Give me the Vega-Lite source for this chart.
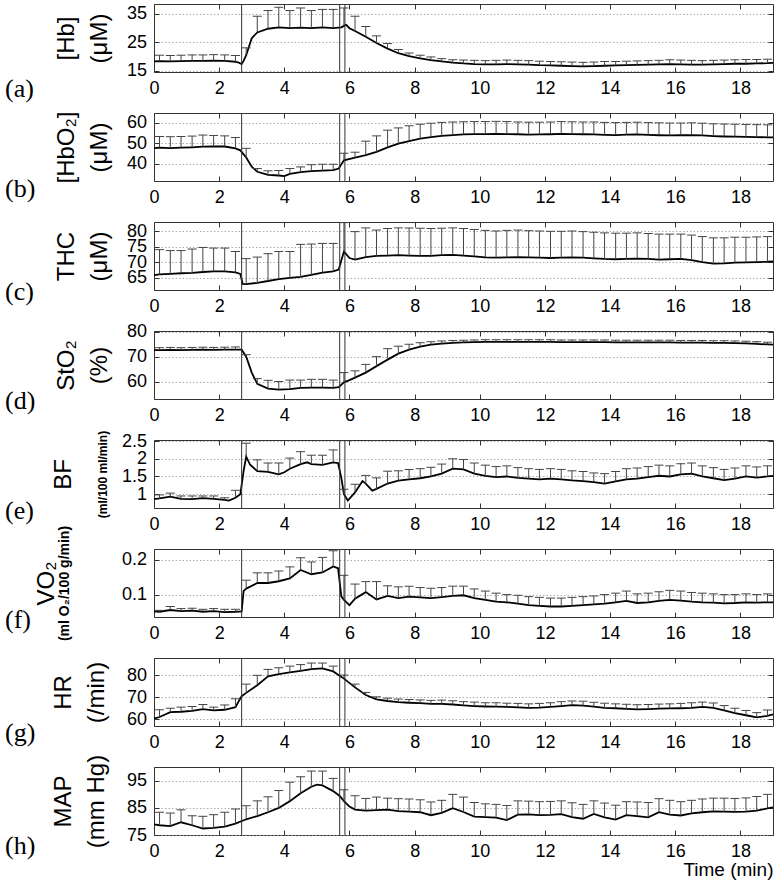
{
"$schema":"https://vega.github.io/schema/vega-lite/v6.json",
"background":"white",
"padding":{"left":4,"top":3,"right":2,"bottom":2},
"bounds":"flush",
"spacing":41,
"vconcat":[
{"width":619,"height":68,
"title":{"text":"(a)","orient":"bottom","anchor":"start","frame":"group","align":"left","baseline":"middle","offset":0,"dx":-149,"dy":-8.5,"font":"Liberation Serif","fontSize":26,"fontWeight":"normal","color":"#000"},
"layer":[
{"data":{"name":"a"},"mark":{"type":"line","color":"#000","strokeWidth":1.8},"encoding":{"x":{"field":"t","type":"quantitative","scale":{"domain":[0,19],"nice":false,"zero":false},"axis":{"orient":"bottom","values":[0,2,4,6,8,10,12,14,16,18],"title":null}},"y":{"field":"v","type":"quantitative","scale":{"domain":[14.6,38.5],"nice":false,"zero":false},"axis":{"orient":"left","values":[15,25,35],"grid":true,"title":["[Hb]","(μM)"],"titlePadding":15}}}},
{"data":{"name":"a"},"transform":[{"filter":"isValid(datum.u)"}],"mark":{"type":"rule","color":"#444","strokeWidth":1},"encoding":{"x":{"field":"t","type":"quantitative","axis":{"orient":"top","values":[0,2,4,6,8,10,12,14,16,18],"labels":false,"title":null}},"y":{"field":"v","type":"quantitative","axis":{"orient":"right","values":[15,25,35],"labels":false,"grid":false,"title":null}},"y2":{"field":"u"}}},
{"data":{"name":"a"},"transform":[{"filter":"isValid(datum.u)"}],"mark":{"type":"tick","orient":"horizontal","size":9,"thickness":1,"color":"#444","opacity":1},"encoding":{"x":{"field":"t","type":"quantitative","axis":null},"y":{"field":"u","type":"quantitative","axis":null}}},
{"data":{"name":"vl"},"mark":{"type":"rule","color":"#333","strokeWidth":1},"encoding":{"x":{"field":"t","type":"quantitative","axis":null}}}
],
"resolve":{"axis":{"x":"independent","y":"independent"}}},
{"width":619,"height":68,
"title":{"text":"(b)","orient":"bottom","anchor":"start","frame":"group","align":"left","baseline":"middle","offset":0,"dx":-149,"dy":-17.5,"font":"Liberation Serif","fontSize":26,"fontWeight":"normal","color":"#000"},
"layer":[
{"data":{"name":"b"},"mark":{"type":"line","color":"#000","strokeWidth":1.8},"encoding":{"x":{"field":"t","type":"quantitative","scale":{"domain":[0,19],"nice":false,"zero":false},"axis":{"orient":"bottom","values":[0,2,4,6,8,10,12,14,16,18],"title":null}},"y":{"field":"v","type":"quantitative","scale":{"domain":[31.5,64.8],"nice":false,"zero":false},"axis":{"orient":"left","values":[40,50,60],"grid":true,"title":["[HbO₂]","(μM)"],"titlePadding":15}}}},
{"data":{"name":"b"},"transform":[{"filter":"isValid(datum.u)"}],"mark":{"type":"rule","color":"#444","strokeWidth":1},"encoding":{"x":{"field":"t","type":"quantitative","axis":{"orient":"top","values":[0,2,4,6,8,10,12,14,16,18],"labels":false,"title":null}},"y":{"field":"v","type":"quantitative","axis":{"orient":"right","values":[40,50,60],"labels":false,"grid":false,"title":null}},"y2":{"field":"u"}}},
{"data":{"name":"b"},"transform":[{"filter":"isValid(datum.u)"}],"mark":{"type":"tick","orient":"horizontal","size":9,"thickness":1,"color":"#444","opacity":1},"encoding":{"x":{"field":"t","type":"quantitative","axis":null},"y":{"field":"u","type":"quantitative","axis":null}}},
{"data":{"name":"vl"},"mark":{"type":"rule","color":"#333","strokeWidth":1},"encoding":{"x":{"field":"t","type":"quantitative","axis":null}}}
],
"resolve":{"axis":{"x":"independent","y":"independent"}}},
{"width":619,"height":68,
"title":{"text":"(c)","orient":"bottom","anchor":"start","frame":"group","align":"left","baseline":"middle","offset":0,"dx":-149,"dy":-23.5,"font":"Liberation Serif","fontSize":26,"fontWeight":"normal","color":"#000"},
"layer":[
{"data":{"name":"c"},"mark":{"type":"line","color":"#000","strokeWidth":1.8},"encoding":{"x":{"field":"t","type":"quantitative","scale":{"domain":[0,19],"nice":false,"zero":false},"axis":{"orient":"bottom","values":[0,2,4,6,8,10,12,14,16,18],"title":null}},"y":{"field":"v","type":"quantitative","scale":{"domain":[61,82.9],"nice":false,"zero":false},"axis":{"orient":"left","values":[65,70,75,80],"grid":true,"title":["THC","(μM)"],"titlePadding":15}}}},
{"data":{"name":"c"},"transform":[{"filter":"isValid(datum.u)"}],"mark":{"type":"rule","color":"#444","strokeWidth":1},"encoding":{"x":{"field":"t","type":"quantitative","axis":{"orient":"top","values":[0,2,4,6,8,10,12,14,16,18],"labels":false,"title":null}},"y":{"field":"v","type":"quantitative","axis":{"orient":"right","values":[65,70,75,80],"labels":false,"grid":false,"title":null}},"y2":{"field":"u"}}},
{"data":{"name":"c"},"transform":[{"filter":"isValid(datum.u)"}],"mark":{"type":"tick","orient":"horizontal","size":9,"thickness":1,"color":"#444","opacity":1},"encoding":{"x":{"field":"t","type":"quantitative","axis":null},"y":{"field":"u","type":"quantitative","axis":null}}},
{"data":{"name":"vl"},"mark":{"type":"rule","color":"#333","strokeWidth":1},"encoding":{"x":{"field":"t","type":"quantitative","axis":null}}}
],
"resolve":{"axis":{"x":"independent","y":"independent"}}},
{"width":619,"height":68,
"title":{"text":"(d)","orient":"bottom","anchor":"start","frame":"group","align":"left","baseline":"middle","offset":0,"dx":-149,"dy":-24,"font":"Liberation Serif","fontSize":26,"fontWeight":"normal","color":"#000"},
"layer":[
{"data":{"name":"d"},"mark":{"type":"line","color":"#000","strokeWidth":1.8},"encoding":{"x":{"field":"t","type":"quantitative","scale":{"domain":[0,19],"nice":false,"zero":false},"axis":{"orient":"bottom","values":[0,2,4,6,8,10,12,14,16,18],"title":null}},"y":{"field":"v","type":"quantitative","scale":{"domain":[53,80.3],"nice":false,"zero":false},"axis":{"orient":"left","values":[60,70,80],"grid":true,"title":["StO₂","(%)"],"titlePadding":15}}}},
{"data":{"name":"d"},"transform":[{"filter":"isValid(datum.u)"}],"mark":{"type":"rule","color":"#444","strokeWidth":1},"encoding":{"x":{"field":"t","type":"quantitative","axis":{"orient":"top","values":[0,2,4,6,8,10,12,14,16,18],"labels":false,"title":null}},"y":{"field":"v","type":"quantitative","axis":{"orient":"right","values":[60,70,80],"labels":false,"grid":false,"title":null}},"y2":{"field":"u"}}},
{"data":{"name":"d"},"transform":[{"filter":"isValid(datum.u)"}],"mark":{"type":"tick","orient":"horizontal","size":9,"thickness":1,"color":"#444","opacity":1},"encoding":{"x":{"field":"t","type":"quantitative","axis":null},"y":{"field":"u","type":"quantitative","axis":null}}},
{"data":{"name":"vl"},"mark":{"type":"rule","color":"#333","strokeWidth":1},"encoding":{"x":{"field":"t","type":"quantitative","axis":null}}}
],
"resolve":{"axis":{"x":"independent","y":"independent"}}},
{"width":619,"height":68,
"title":{"text":"(e)","orient":"bottom","anchor":"start","frame":"group","align":"left","baseline":"middle","offset":0,"dx":-149,"dy":-22.5,"font":"Liberation Serif","fontSize":26,"fontWeight":"normal","color":"#000"},
"layer":[
{"data":{"name":"e"},"mark":{"type":"line","color":"#000","strokeWidth":1.8},"encoding":{"x":{"field":"t","type":"quantitative","scale":{"domain":[0,19],"nice":false,"zero":false},"axis":{"orient":"bottom","values":[0,2,4,6,8,10,12,14,16,18],"title":null}},"y":{"field":"v","type":"quantitative","scale":{"domain":[0.61,2.53],"nice":false,"zero":false},"axis":{"orient":"left","values":[1,1.5,2,2.5],"labelExpr":"datum.value + ''","grid":true,"title":"(ml/100 ml/min)","titleFontSize":12,"titleFontWeight":"bold","titlePadding":12}}}},
{"data":{"name":"e"},"transform":[{"filter":"isValid(datum.u)"}],"mark":{"type":"rule","color":"#444","strokeWidth":1},"encoding":{"x":{"field":"t","type":"quantitative","axis":{"orient":"top","values":[0,2,4,6,8,10,12,14,16,18],"labels":false,"title":null}},"y":{"field":"v","type":"quantitative","axis":{"orient":"right","values":[1,1.5,2,2.5],"labels":false,"grid":false,"title":null}},"y2":{"field":"u"}}},
{"data":{"name":"e"},"transform":[{"filter":"isValid(datum.u)"}],"mark":{"type":"tick","orient":"horizontal","size":9,"thickness":1,"color":"#444","opacity":1},"encoding":{"x":{"field":"t","type":"quantitative","axis":null},"y":{"field":"u","type":"quantitative","axis":{"orient":"left","labels":false,"ticks":false,"grid":false,"title":"BF","titlePadding":79}}}},
{"data":{"name":"vl"},"mark":{"type":"rule","color":"#333","strokeWidth":1},"encoding":{"x":{"field":"t","type":"quantitative","axis":null}}}
],
"resolve":{"axis":{"x":"independent","y":"independent"}}},
{"width":619,"height":68,
"title":{"text":"(f)","orient":"bottom","anchor":"start","frame":"group","align":"left","baseline":"middle","offset":0,"dx":-149,"dy":-22.5,"font":"Liberation Serif","fontSize":26,"fontWeight":"normal","color":"#000"},
"layer":[
{"data":{"name":"f"},"mark":{"type":"line","color":"#000","strokeWidth":1.8},"encoding":{"x":{"field":"t","type":"quantitative","scale":{"domain":[0,19],"nice":false,"zero":false},"axis":{"orient":"bottom","values":[0,2,4,6,8,10,12,14,16,18],"title":null}},"y":{"field":"v","type":"quantitative","scale":{"domain":[0.036,0.23],"nice":false,"zero":false},"axis":{"orient":"left","values":[0.1,0.2],"grid":true,"title":"(ml O₂/100 g/min)","titleFontSize":14,"titleFontWeight":"bold","titlePadding":50}}}},
{"data":{"name":"f"},"transform":[{"filter":"isValid(datum.u)"}],"mark":{"type":"rule","color":"#444","strokeWidth":1},"encoding":{"x":{"field":"t","type":"quantitative","axis":{"orient":"top","values":[0,2,4,6,8,10,12,14,16,18],"labels":false,"title":null}},"y":{"field":"v","type":"quantitative","axis":{"orient":"right","values":[0.1,0.2],"labels":false,"grid":false,"title":null}},"y2":{"field":"u"}}},
{"data":{"name":"f"},"transform":[{"filter":"isValid(datum.u)"}],"mark":{"type":"tick","orient":"horizontal","size":9,"thickness":1,"color":"#444","opacity":1},"encoding":{"x":{"field":"t","type":"quantitative","axis":null},"y":{"field":"u","type":"quantitative","axis":{"orient":"left","labels":false,"ticks":false,"grid":false,"title":"VO₂","titlePadding":96}}}},
{"data":{"name":"vl"},"mark":{"type":"rule","color":"#333","strokeWidth":1},"encoding":{"x":{"field":"t","type":"quantitative","axis":null}}}
],
"resolve":{"axis":{"x":"independent","y":"independent"}}},
{"width":619,"height":68,
"title":{"text":"(g)","orient":"bottom","anchor":"start","frame":"group","align":"left","baseline":"middle","offset":0,"dx":-149,"dy":-18.5,"font":"Liberation Serif","fontSize":26,"fontWeight":"normal","color":"#000"},
"layer":[
{"data":{"name":"g"},"mark":{"type":"line","color":"#000","strokeWidth":1.8},"encoding":{"x":{"field":"t","type":"quantitative","scale":{"domain":[0,19],"nice":false,"zero":false},"axis":{"orient":"bottom","values":[0,2,4,6,8,10,12,14,16,18],"title":null}},"y":{"field":"v","type":"quantitative","scale":{"domain":[56.9,87.9],"nice":false,"zero":false},"axis":{"orient":"left","values":[60,70,80],"grid":true,"title":["HR","(/min)"],"titlePadding":18}}}},
{"data":{"name":"g"},"transform":[{"filter":"isValid(datum.u)"}],"mark":{"type":"rule","color":"#444","strokeWidth":1},"encoding":{"x":{"field":"t","type":"quantitative","axis":{"orient":"top","values":[0,2,4,6,8,10,12,14,16,18],"labels":false,"title":null}},"y":{"field":"v","type":"quantitative","axis":{"orient":"right","values":[60,70,80],"labels":false,"grid":false,"title":null}},"y2":{"field":"u"}}},
{"data":{"name":"g"},"transform":[{"filter":"isValid(datum.u)"}],"mark":{"type":"tick","orient":"horizontal","size":9,"thickness":1,"color":"#444","opacity":1},"encoding":{"x":{"field":"t","type":"quantitative","axis":null},"y":{"field":"u","type":"quantitative","axis":null}}},
{"data":{"name":"vl"},"mark":{"type":"rule","color":"#333","strokeWidth":1},"encoding":{"x":{"field":"t","type":"quantitative","axis":null}}}
],
"resolve":{"axis":{"x":"independent","y":"independent"}}},
{"width":619,"height":68,
"title":{"text":"(h)","orient":"bottom","anchor":"start","frame":"group","align":"left","baseline":"middle","offset":0,"dx":-149,"dy":-34,"font":"Liberation Serif","fontSize":26,"fontWeight":"normal","color":"#000"},
"layer":[
{"data":{"name":"h"},"mark":{"type":"line","color":"#000","strokeWidth":1.8},"encoding":{"x":{"field":"t","type":"quantitative","scale":{"domain":[0,19],"nice":false,"zero":false},"axis":{"orient":"bottom","values":[0,2,4,6,8,10,12,14,16,18],"title":"Time (min)","titleAnchor":"end","titleFontSize":19,"titlePadding":0}},"y":{"field":"v","type":"quantitative","scale":{"domain":[75,100.1],"nice":false,"zero":false},"axis":{"orient":"left","values":[75,85,95],"grid":true,"title":["MAP","(mm Hg)"],"titlePadding":18}}}},
{"data":{"name":"h"},"transform":[{"filter":"isValid(datum.u)"}],"mark":{"type":"rule","color":"#444","strokeWidth":1},"encoding":{"x":{"field":"t","type":"quantitative","axis":{"orient":"top","values":[0,2,4,6,8,10,12,14,16,18],"labels":false,"title":null}},"y":{"field":"v","type":"quantitative","axis":{"orient":"right","values":[75,85,95],"labels":false,"grid":false,"title":null}},"y2":{"field":"u"}}},
{"data":{"name":"h"},"transform":[{"filter":"isValid(datum.u)"}],"mark":{"type":"tick","orient":"horizontal","size":9,"thickness":1,"color":"#444","opacity":1},"encoding":{"x":{"field":"t","type":"quantitative","axis":null},"y":{"field":"u","type":"quantitative","axis":null}}},
{"data":{"name":"vl"},"mark":{"type":"rule","color":"#333","strokeWidth":1},"encoding":{"x":{"field":"t","type":"quantitative","axis":null}}}
],
"resolve":{"axis":{"x":"independent","y":"independent"}}}
],
"datasets":{
"vl":[{"t":2.69},{"t":5.7},{"t":5.86}],
"a":[{"t":0,"v":18.3},{"t":0.17,"v":18.4,"u":20.5},{"t":0.5,"v":18.3,"u":20.4},{"t":0.83,"v":18.4,"u":20.5},{"t":1.17,"v":18.5,"u":20.6},{"t":1.5,"v":18.5,"u":20.6},{"t":1.83,"v":18.6,"u":20.7},{"t":2.17,"v":18.5,"u":20.6},{"t":2.5,"v":18.2,"u":20.4},{"t":2.62,"v":17.8},{"t":2.69,"v":17.4},{"t":2.75,"v":18.5},{"t":2.83,"v":20.5,"u":23.1},{"t":3,"v":26.5},{"t":3.17,"v":28.5,"u":34.2},{"t":3.5,"v":29.8,"u":36.2},{"t":3.83,"v":30.3,"u":37.4},{"t":4.17,"v":30,"u":36.2},{"t":4.5,"v":30.2,"u":37.1},{"t":4.83,"v":30,"u":36.2},{"t":5.17,"v":30.3,"u":36.6},{"t":5.5,"v":30,"u":36.6},{"t":5.75,"v":30.3},{"t":5.83,"v":30.8,"u":37.1},{"t":5.9,"v":31.2},{"t":6,"v":30},{"t":6.17,"v":29,"u":34.2},{"t":6.5,"v":27,"u":30.6},{"t":6.83,"v":24.8,"u":27.3},{"t":7.17,"v":22.8,"u":24.6},{"t":7.5,"v":21.2,"u":22.5},{"t":7.83,"v":20.2,"u":21.3},{"t":8.17,"v":19.4,"u":20.5},{"t":8.5,"v":18.8,"u":19.9},{"t":8.83,"v":18.3,"u":19.3},{"t":9.17,"v":17.9,"u":18.9},{"t":9.5,"v":17.6,"u":18.8},{"t":9.83,"v":17.4,"u":18.7},{"t":10.17,"v":17.3,"u":18.6},{"t":10.5,"v":17.3,"u":18.7},{"t":10.83,"v":17.4,"u":18.8},{"t":11.17,"v":17.3,"u":18.7},{"t":11.5,"v":17.2,"u":18.6},{"t":11.83,"v":17,"u":18.4},{"t":12.17,"v":16.9,"u":18.3},{"t":12.5,"v":16.8,"u":18.2},{"t":12.83,"v":16.7,"u":18.1},{"t":13.17,"v":16.6,"u":18},{"t":13.5,"v":16.7,"u":18.1},{"t":13.83,"v":16.8,"u":18.3},{"t":14.17,"v":16.9,"u":18.3},{"t":14.5,"v":17,"u":18.4},{"t":14.83,"v":17.1,"u":18.5},{"t":15.17,"v":17.2,"u":18.6},{"t":15.5,"v":17.3,"u":18.7},{"t":15.83,"v":17.4,"u":18.9},{"t":16.17,"v":17.3,"u":18.8},{"t":16.5,"v":17.2,"u":18.7},{"t":16.83,"v":17.2,"u":18.6},{"t":17.17,"v":17.3,"u":18.7},{"t":17.5,"v":17.4,"u":18.8},{"t":17.83,"v":17.5,"u":18.9},{"t":18.17,"v":17.5,"u":19},{"t":18.5,"v":17.6,"u":19},{"t":18.83,"v":17.7,"u":19.1},{"t":19,"v":17.8}],
"b":[{"t":0,"v":47.6},{"t":0.17,"v":47.8,"u":53.3},{"t":0.5,"v":47.6,"u":53.2},{"t":0.83,"v":47.8,"u":53.3},{"t":1.17,"v":48,"u":53.5},{"t":1.5,"v":48.3,"u":54},{"t":1.83,"v":48.5,"u":53.8},{"t":2.17,"v":48.4,"u":53.6},{"t":2.5,"v":47.5,"u":52.8},{"t":2.65,"v":46.5},{"t":2.83,"v":43,"u":47.5},{"t":3,"v":38.5},{"t":3.17,"v":36,"u":37.6},{"t":3.5,"v":34.5,"u":36.5},{"t":3.83,"v":34.2,"u":36.6},{"t":4,"v":33.9},{"t":4.17,"v":35,"u":37.6},{"t":4.5,"v":35.8,"u":38.4},{"t":4.83,"v":36.3,"u":39.5},{"t":5.17,"v":36.6,"u":39.7},{"t":5.5,"v":36.8,"u":39.7},{"t":5.67,"v":37.6},{"t":5.83,"v":41.6,"u":45.1},{"t":6.17,"v":42.9,"u":45.6},{"t":6.5,"v":44.2,"u":51},{"t":6.83,"v":45.8,"u":53.6},{"t":7.17,"v":48,"u":56.4},{"t":7.5,"v":49.8,"u":57.5},{"t":7.83,"v":51,"u":58.5},{"t":8.17,"v":52.2,"u":59.3},{"t":8.5,"v":53,"u":59.8},{"t":8.83,"v":53.6,"u":60.2},{"t":9.17,"v":54,"u":60.4},{"t":9.5,"v":54.3,"u":60.5},{"t":9.83,"v":54.5,"u":60.6},{"t":10.17,"v":54.5,"u":60.6},{"t":10.5,"v":54.6,"u":60.7},{"t":10.83,"v":54.5,"u":60.6},{"t":11.17,"v":54.4,"u":60.4},{"t":11.5,"v":54.2,"u":60.3},{"t":11.83,"v":54.3,"u":60.3},{"t":12.17,"v":54.4,"u":60.4},{"t":12.5,"v":54.6,"u":60.6},{"t":12.83,"v":54.5,"u":60.5},{"t":13.17,"v":54.4,"u":60.4},{"t":13.5,"v":54.3,"u":60.4},{"t":13.83,"v":54.1,"u":60.2},{"t":14.17,"v":54,"u":60.1},{"t":14.5,"v":54.2,"u":60.2},{"t":14.83,"v":54.3,"u":60.3},{"t":15.17,"v":54.1,"u":60.1},{"t":15.5,"v":53.9,"u":60},{"t":15.83,"v":53.8,"u":59.9},{"t":16.17,"v":53.9,"u":59.9},{"t":16.5,"v":54,"u":60},{"t":16.83,"v":53.8,"u":59.8},{"t":17.17,"v":53.5,"u":59.5},{"t":17.5,"v":53.3,"u":59.4},{"t":17.83,"v":53.2,"u":59.3},{"t":18.17,"v":53.1,"u":59.2},{"t":18.5,"v":53,"u":59.1},{"t":18.83,"v":52.9,"u":59},{"t":19,"v":52.9}],
"c":[{"t":0,"v":65.8},{"t":0.17,"v":66,"u":74},{"t":0.5,"v":66.2,"u":73.7},{"t":0.83,"v":66.4,"u":73.7},{"t":1.17,"v":66.5,"u":74.2},{"t":1.5,"v":66.8,"u":74.7},{"t":1.83,"v":67,"u":74.5},{"t":2.17,"v":67,"u":74.5},{"t":2.5,"v":66.7,"u":73.4},{"t":2.65,"v":66.2},{"t":2.72,"v":63},{"t":2.83,"v":62.9,"u":71.1},{"t":3.17,"v":63.3,"u":71.6},{"t":3.5,"v":63.9,"u":72.7},{"t":3.83,"v":64.5,"u":73.4},{"t":4.17,"v":64.9,"u":73.4},{"t":4.5,"v":65.2,"u":75.7},{"t":4.83,"v":65.9,"u":75.8},{"t":5.17,"v":66.6,"u":76},{"t":5.5,"v":67,"u":76},{"t":5.67,"v":67.6},{"t":5.83,"v":73.4,"u":82.7},{"t":6,"v":71.3},{"t":6.17,"v":70.8,"u":79.8},{"t":6.5,"v":71.6,"u":81},{"t":6.83,"v":72,"u":80.3},{"t":7.17,"v":72.1,"u":80.8},{"t":7.5,"v":72.2,"u":81},{"t":7.83,"v":72.1,"u":81},{"t":8.17,"v":72,"u":80.9},{"t":8.5,"v":72,"u":80.8},{"t":8.83,"v":72.2,"u":80.9},{"t":9.17,"v":72.3,"u":81},{"t":9.5,"v":72.1,"u":80.8},{"t":9.83,"v":71.8,"u":80.5},{"t":10.17,"v":71.5,"u":80.2},{"t":10.5,"v":71.4,"u":80},{"t":10.83,"v":71.5,"u":80.2},{"t":11.17,"v":71.6,"u":80.3},{"t":11.5,"v":71.5,"u":80.1},{"t":11.83,"v":71.4,"u":80},{"t":12.17,"v":71.3,"u":79.9},{"t":12.5,"v":71.4,"u":79.9},{"t":12.83,"v":71.5,"u":80},{"t":13.17,"v":71.4,"u":79.8},{"t":13.5,"v":71.2,"u":79.6},{"t":13.83,"v":71,"u":79.4},{"t":14.17,"v":70.9,"u":79.3},{"t":14.5,"v":71,"u":79.3},{"t":14.83,"v":71.1,"u":79.4},{"t":15.17,"v":71,"u":79.2},{"t":15.5,"v":70.8,"u":79},{"t":15.83,"v":70.9,"u":79},{"t":16.17,"v":71,"u":79},{"t":16.5,"v":70.6,"u":78.7},{"t":16.83,"v":70,"u":78.2},{"t":17.17,"v":69.5,"u":77.8},{"t":17.5,"v":69.6,"u":77.8},{"t":17.83,"v":69.8,"u":78},{"t":18.17,"v":69.9,"u":78},{"t":18.5,"v":70,"u":78.1},{"t":18.83,"v":70.1,"u":78.2},{"t":19,"v":70.2}],
"d":[{"t":0,"v":72.6},{"t":0.17,"v":72.6,"u":73.6},{"t":0.5,"v":72.7,"u":73.7},{"t":0.83,"v":72.6,"u":73.6},{"t":1.17,"v":72.7,"u":73.7},{"t":1.5,"v":72.8,"u":73.8},{"t":1.83,"v":72.7,"u":73.7},{"t":2.17,"v":72.8,"u":73.8},{"t":2.5,"v":72.8,"u":73.9},{"t":2.69,"v":72.8},{"t":2.83,"v":70,"u":70.8},{"t":3,"v":63.6},{"t":3.17,"v":59.1,"u":61.2},{"t":3.5,"v":57.2,"u":60.5},{"t":3.83,"v":56.8,"u":60},{"t":4.17,"v":57,"u":60.6},{"t":4.5,"v":57.5,"u":60.6},{"t":4.83,"v":57.6,"u":60.9},{"t":5.17,"v":57.6,"u":60.9},{"t":5.5,"v":57.5,"u":60.6},{"t":5.67,"v":57.8},{"t":5.83,"v":59.7,"u":63.6},{"t":6,"v":60.6},{"t":6.17,"v":61.6,"u":64.3},{"t":6.5,"v":63.6,"u":66.9},{"t":6.83,"v":66.2,"u":70},{"t":7.17,"v":68.8,"u":73.2},{"t":7.5,"v":71.2,"u":74.2},{"t":7.83,"v":72.8,"u":75},{"t":8.17,"v":74,"u":75.6},{"t":8.5,"v":74.8,"u":76},{"t":8.83,"v":75.2,"u":76.3},{"t":9.17,"v":75.5,"u":76.5},{"t":9.5,"v":75.7,"u":76.6},{"t":9.83,"v":75.8,"u":76.7},{"t":10.17,"v":75.9,"u":76.8},{"t":10.5,"v":75.9,"u":76.8},{"t":10.83,"v":75.9,"u":76.8},{"t":11.17,"v":75.9,"u":76.8},{"t":11.5,"v":75.9,"u":76.8},{"t":11.83,"v":75.9,"u":76.8},{"t":12.17,"v":75.9,"u":76.8},{"t":12.5,"v":75.8,"u":76.7},{"t":12.83,"v":75.8,"u":76.7},{"t":13.17,"v":75.8,"u":76.7},{"t":13.5,"v":75.8,"u":76.7},{"t":13.83,"v":75.8,"u":76.7},{"t":14.17,"v":75.7,"u":76.6},{"t":14.5,"v":75.7,"u":76.6},{"t":14.83,"v":75.7,"u":76.6},{"t":15.17,"v":75.7,"u":76.6},{"t":15.5,"v":75.7,"u":76.6},{"t":15.83,"v":75.7,"u":76.6},{"t":16.17,"v":75.6,"u":76.5},{"t":16.5,"v":75.6,"u":76.5},{"t":16.83,"v":75.6,"u":76.5},{"t":17.17,"v":75.5,"u":76.4},{"t":17.5,"v":75.5,"u":76.4},{"t":17.83,"v":75.4,"u":76.3},{"t":18.17,"v":75.3,"u":76.2},{"t":18.5,"v":75.1,"u":76},{"t":18.83,"v":74.9,"u":75.8},{"t":19,"v":74.8}],
"e":[{"t":0,"v":0.86},{"t":0.17,"v":0.88,"u":0.98},{"t":0.5,"v":0.93,"u":1.03},{"t":0.83,"v":0.87,"u":0.95},{"t":1.17,"v":0.86,"u":0.95},{"t":1.5,"v":0.89,"u":0.95},{"t":1.83,"v":0.87,"u":0.95},{"t":2.17,"v":0.84,"u":0.9},{"t":2.3,"v":0.82},{"t":2.5,"v":0.9,"u":1.11},{"t":2.65,"v":1},{"t":2.75,"v":1.65},{"t":2.83,"v":2.06,"u":2.44},{"t":2.95,"v":1.83},{"t":3.17,"v":1.65,"u":1.97},{"t":3.5,"v":1.63,"u":1.88},{"t":3.83,"v":1.56,"u":1.88},{"t":4,"v":1.62},{"t":4.17,"v":1.72,"u":2.02},{"t":4.5,"v":1.85,"u":2.2},{"t":4.7,"v":1.9},{"t":4.83,"v":1.85,"u":2.1},{"t":5.17,"v":1.83,"u":2.1},{"t":5.5,"v":1.9,"u":2.25},{"t":5.65,"v":1.88},{"t":5.75,"v":1.46},{"t":5.83,"v":1,"u":1.14},{"t":5.95,"v":0.82},{"t":6.17,"v":1.05,"u":1.28},{"t":6.4,"v":1.37},{"t":6.5,"v":1.3,"u":1.53},{"t":6.7,"v":1.1},{"t":6.83,"v":1.15,"u":1.46},{"t":7.17,"v":1.3,"u":1.65},{"t":7.5,"v":1.38,"u":1.66},{"t":7.83,"v":1.42,"u":1.7},{"t":8.17,"v":1.45,"u":1.72},{"t":8.5,"v":1.5,"u":1.76},{"t":8.83,"v":1.58,"u":1.85},{"t":9.17,"v":1.72,"u":2},{"t":9.5,"v":1.7,"u":1.98},{"t":9.83,"v":1.58,"u":1.88},{"t":10.17,"v":1.52,"u":1.82},{"t":10.5,"v":1.48,"u":1.78},{"t":10.83,"v":1.5,"u":1.8},{"t":11.17,"v":1.46,"u":1.75},{"t":11.5,"v":1.44,"u":1.72},{"t":11.83,"v":1.42,"u":1.7},{"t":12.17,"v":1.44,"u":1.72},{"t":12.5,"v":1.42,"u":1.7},{"t":12.83,"v":1.39,"u":1.66},{"t":13.17,"v":1.37,"u":1.64},{"t":13.5,"v":1.34,"u":1.6},{"t":13.83,"v":1.3,"u":1.58},{"t":14.17,"v":1.36,"u":1.64},{"t":14.5,"v":1.42,"u":1.72},{"t":14.83,"v":1.44,"u":1.74},{"t":15.17,"v":1.48,"u":1.78},{"t":15.5,"v":1.52,"u":1.82},{"t":15.83,"v":1.5,"u":1.8},{"t":16.17,"v":1.56,"u":1.86},{"t":16.5,"v":1.58,"u":1.88},{"t":16.83,"v":1.5,"u":1.8},{"t":17.17,"v":1.45,"u":1.75},{"t":17.5,"v":1.4,"u":1.7},{"t":17.83,"v":1.44,"u":1.74},{"t":18.17,"v":1.5,"u":1.8},{"t":18.5,"v":1.47,"u":1.77},{"t":18.83,"v":1.5,"u":1.8},{"t":19,"v":1.52}],
"f":[{"t":0,"v":0.052},{"t":0.17,"v":0.051,"u":0.055},{"t":0.5,"v":0.056,"u":0.066},{"t":0.83,"v":0.053,"u":0.06},{"t":1.17,"v":0.054,"u":0.061},{"t":1.5,"v":0.051,"u":0.058},{"t":1.83,"v":0.053,"u":0.06},{"t":2.17,"v":0.05,"u":0.058},{"t":2.5,"v":0.051,"u":0.058},{"t":2.69,"v":0.052},{"t":2.75,"v":0.11},{"t":2.83,"v":0.117,"u":0.141},{"t":3.17,"v":0.133,"u":0.162},{"t":3.5,"v":0.133,"u":0.162},{"t":3.83,"v":0.138,"u":0.167},{"t":4.17,"v":0.146,"u":0.179},{"t":4.5,"v":0.17,"u":0.205},{"t":4.83,"v":0.158,"u":0.193},{"t":5.17,"v":0.163,"u":0.206},{"t":5.5,"v":0.18,"u":0.225},{"t":5.65,"v":0.175},{"t":5.75,"v":0.095},{"t":5.83,"v":0.085,"u":0.155},{"t":6,"v":0.07},{"t":6.17,"v":0.088,"u":0.13},{"t":6.5,"v":0.107,"u":0.137},{"t":6.83,"v":0.086,"u":0.137},{"t":7.17,"v":0.096,"u":0.125},{"t":7.5,"v":0.09,"u":0.122},{"t":7.83,"v":0.094,"u":0.124},{"t":8.17,"v":0.092,"u":0.12},{"t":8.5,"v":0.09,"u":0.118},{"t":8.83,"v":0.093,"u":0.12},{"t":9.17,"v":0.096,"u":0.124},{"t":9.5,"v":0.098,"u":0.124},{"t":9.83,"v":0.09,"u":0.116},{"t":10.17,"v":0.085,"u":0.11},{"t":10.5,"v":0.08,"u":0.104},{"t":10.83,"v":0.078,"u":0.1},{"t":11.17,"v":0.074,"u":0.098},{"t":11.5,"v":0.07,"u":0.094},{"t":11.83,"v":0.068,"u":0.092},{"t":12.17,"v":0.066,"u":0.09},{"t":12.5,"v":0.066,"u":0.09},{"t":12.83,"v":0.068,"u":0.092},{"t":13.17,"v":0.07,"u":0.094},{"t":13.5,"v":0.072,"u":0.096},{"t":13.83,"v":0.074,"u":0.1},{"t":14.17,"v":0.078,"u":0.104},{"t":14.5,"v":0.082,"u":0.11},{"t":14.83,"v":0.076,"u":0.102},{"t":15.17,"v":0.078,"u":0.104},{"t":15.5,"v":0.082,"u":0.108},{"t":15.83,"v":0.085,"u":0.112},{"t":16.17,"v":0.083,"u":0.11},{"t":16.5,"v":0.08,"u":0.106},{"t":16.83,"v":0.078,"u":0.104},{"t":17.17,"v":0.077,"u":0.102},{"t":17.5,"v":0.075,"u":0.1},{"t":17.83,"v":0.076,"u":0.1},{"t":18.17,"v":0.078,"u":0.102},{"t":18.5,"v":0.077,"u":0.1},{"t":18.83,"v":0.078,"u":0.102},{"t":19,"v":0.078}],
"g":[{"t":0,"v":60.3},{"t":0.17,"v":61,"u":64.3},{"t":0.5,"v":63.2,"u":65},{"t":0.83,"v":63.4,"u":65.5},{"t":1.17,"v":63.8,"u":65.8},{"t":1.5,"v":64.6,"u":66.7},{"t":1.83,"v":64,"u":65.5},{"t":2.17,"v":64.3,"u":66.5},{"t":2.5,"v":65.5,"u":69.3},{"t":2.69,"v":70.5},{"t":2.83,"v":72,"u":76},{"t":3.17,"v":75.5,"u":80},{"t":3.5,"v":79.5,"u":82.7},{"t":3.83,"v":80.6,"u":83.4},{"t":4.17,"v":81.3,"u":84.2},{"t":4.5,"v":82,"u":84.9},{"t":4.83,"v":82.8,"u":85.6},{"t":5.17,"v":83.2,"u":85.6},{"t":5.5,"v":81.8,"u":84.2},{"t":5.83,"v":78.5,"u":80.1},{"t":6.17,"v":74.5,"u":76},{"t":6.5,"v":71,"u":72.2},{"t":6.83,"v":69,"u":70.2},{"t":7.17,"v":68.3,"u":69.6},{"t":7.5,"v":67.8,"u":69.2},{"t":7.83,"v":67.5,"u":69},{"t":8.17,"v":67.3,"u":68.8},{"t":8.5,"v":67,"u":68.6},{"t":8.83,"v":67,"u":68.7},{"t":9.17,"v":66.7,"u":68.4},{"t":9.5,"v":66.3,"u":68},{"t":9.83,"v":66,"u":67.8},{"t":10.17,"v":65.8,"u":67.5},{"t":10.5,"v":65.7,"u":67.5},{"t":10.83,"v":65.6,"u":67.3},{"t":11.17,"v":65.4,"u":67.2},{"t":11.5,"v":65.2,"u":67},{"t":11.83,"v":65.3,"u":67.2},{"t":12.17,"v":65.6,"u":67.5},{"t":12.5,"v":66,"u":68},{"t":12.83,"v":66.4,"u":68.3},{"t":13.17,"v":66.2,"u":68.2},{"t":13.5,"v":65.7,"u":67.7},{"t":13.83,"v":65.2,"u":67.3},{"t":14.17,"v":65,"u":67},{"t":14.5,"v":64.7,"u":66.8},{"t":14.83,"v":64.5,"u":66.6},{"t":15.17,"v":64.6,"u":66.7},{"t":15.5,"v":64.8,"u":66.9},{"t":15.83,"v":64.9,"u":67},{"t":16.17,"v":65,"u":67.2},{"t":16.5,"v":65.2,"u":67.5},{"t":16.83,"v":65.6,"u":67.8},{"t":17.17,"v":65.2,"u":67.4},{"t":17.5,"v":64,"u":66.2},{"t":17.83,"v":62.8,"u":65},{"t":18.17,"v":61.8,"u":64},{"t":18.5,"v":60.8,"u":63},{"t":18.83,"v":61.5,"u":64.2},{"t":19,"v":62.2}],
"h":[{"t":0,"v":78.9},{"t":0.17,"v":78.6,"u":83.4},{"t":0.5,"v":78.3,"u":83.1},{"t":0.83,"v":79.7,"u":84.3},{"t":1.17,"v":78.6,"u":82.1},{"t":1.5,"v":77.4,"u":81.9},{"t":1.83,"v":77.6,"u":82.5},{"t":2.17,"v":78.1,"u":83.4},{"t":2.5,"v":79.2,"u":84.6},{"t":2.83,"v":80.8,"u":85.8},{"t":3.17,"v":82,"u":87.6},{"t":3.5,"v":83.4,"u":89.1},{"t":3.83,"v":85,"u":91.4},{"t":4.17,"v":87.5,"u":94.5},{"t":4.5,"v":90.4,"u":96.5},{"t":4.83,"v":92.8,"u":98.6},{"t":5,"v":93.6},{"t":5.17,"v":93.3,"u":98.6},{"t":5.5,"v":91.2,"u":95.9},{"t":5.7,"v":89.4},{"t":5.83,"v":87.5,"u":91.7},{"t":6,"v":85.5},{"t":6.17,"v":84.4,"u":89.5},{"t":6.5,"v":84,"u":88.5},{"t":6.83,"v":84.2,"u":89},{"t":7.17,"v":84.4,"u":88.6},{"t":7.5,"v":83.8,"u":88.4},{"t":7.83,"v":83.6,"u":88.3},{"t":8.17,"v":83.4,"u":88},{"t":8.5,"v":82.3,"u":87.2},{"t":8.83,"v":83.2,"u":87.8},{"t":9.17,"v":84.9,"u":90},{"t":9.5,"v":83.5,"u":89},{"t":9.83,"v":81.8,"u":87},{"t":10.17,"v":81.6,"u":86.5},{"t":10.5,"v":81.4,"u":86.3},{"t":10.83,"v":80.5,"u":85.9},{"t":11.17,"v":82.5,"u":87.6},{"t":11.5,"v":82.6,"u":87.5},{"t":11.83,"v":82.3,"u":87.3},{"t":12.17,"v":82.4,"u":87.4},{"t":12.5,"v":82.7,"u":87.6},{"t":12.83,"v":81.6,"u":86.9},{"t":13.17,"v":81,"u":86.3},{"t":13.5,"v":82.8,"u":87.6},{"t":13.83,"v":81.5,"u":86.8},{"t":14.17,"v":80.7,"u":86},{"t":14.5,"v":82.3,"u":87.3},{"t":14.83,"v":82,"u":87.2},{"t":15.17,"v":81.5,"u":87},{"t":15.5,"v":83.4,"u":88.4},{"t":15.83,"v":82.5,"u":87.8},{"t":16.17,"v":82.2,"u":87.3},{"t":16.5,"v":83,"u":87.8},{"t":16.83,"v":83.4,"u":88.3},{"t":17.17,"v":83.7,"u":88.6},{"t":17.5,"v":83.6,"u":88.6},{"t":17.83,"v":83.5,"u":88.5},{"t":18.17,"v":83.6,"u":88.7},{"t":18.5,"v":84,"u":89.2},{"t":18.83,"v":84.8,"u":90},{"t":19,"v":85.2}]
},
"config":{
"view":{"stroke":"#333","strokeWidth":1},
"axis":{"domain":false,"labelFont":"Liberation Sans","labelFontSize":18,"labelColor":"#000","tickColor":"#333","tickSize":-5,"tickWidth":1,"labelPadding":12.5,"titleFont":"Liberation Sans","titleFontSize":24,"titleFontWeight":"normal","titleColor":"#000","titleLineHeight":33,"gridColor":"#999","gridDash":[1.5,2],"gridWidth":0.8,"labelOverlap":false,"labelFlush":false},
"axisX":{"grid":false}
}
}
